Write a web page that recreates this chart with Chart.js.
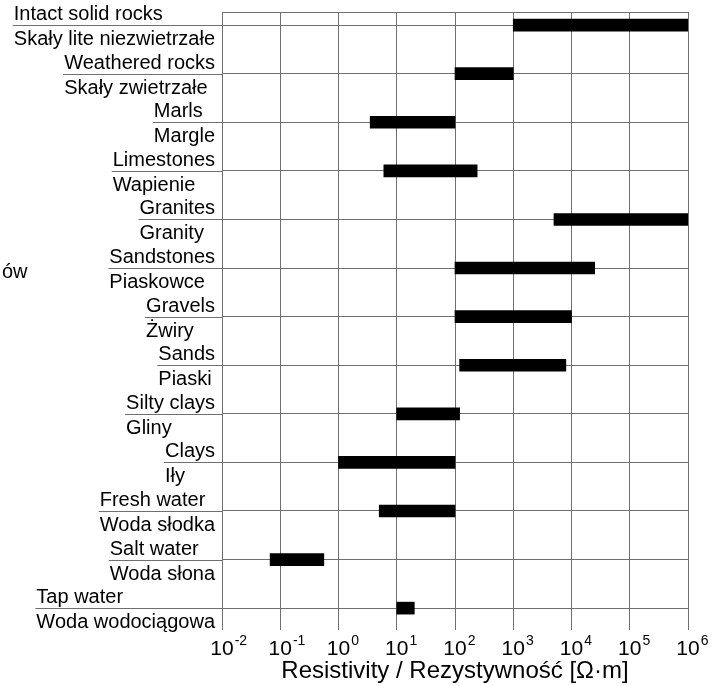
<!DOCTYPE html>
<html>
<head>
<meta charset="utf-8">
<script src="https://cdn.jsdelivr.net/npm/chart.js@4"></script>
<style>
  html, body { margin: 0; padding: 0; background: #fff; }
  #wrap { position: relative; width: 714px; height: 686px; }
</style>
</head>
<body>
<div id="wrap"><canvas id="chart"></canvas></div>
<script>
// Material names, English above each separator, Polish below it
const materialsEn = ['Intact solid rocks', 'Weathered rocks', 'Marls', 'Limestones', 'Granites',
  'Sandstones', 'Gravels', 'Sands', 'Silty clays', 'Clays', 'Fresh water', 'Salt water', 'Tap water'];
const materialsPl = ['Skały lite niezwietrzałe', 'Skały zwietrzałe', 'Margle', 'Wapienie', 'Granity',
  'Piaskowce', 'Żwiry', 'Piaski', 'Gliny', 'Iły', 'Woda słodka', 'Woda słona', 'Woda wodociągowa'];

// Resistivity range of each material, Ω·m
const resistivityLow  = [1000, 100, 3.5, 6, 5000, 100, 100, 120, 10, 1, 5, 0.067, 10];
const resistivityHigh = [1e6, 1000, 100, 240, 1e6, 25000, 10000, 8000, 120, 100, 100, 0.56, 20];

// Decade ticks on the resistivity axis (powers of ten)
const decadeExponents = [-2, -1, 0, 1, 2, 3, 4, 5, 6];

const axisTitle = 'Resistivity / Rezystywność [Ω·m]';
const sideText = 'ów';

const FONT = '"Liberation Sans", Arial, Helvetica, sans-serif';
const LINE = '#6f6f6f';

const bars = materialsEn.map((_, i) => ({ x: [resistivityLow[i], resistivityHigh[i]], y: i }));

// Two-line category labels, their underlines, the top frame and the power-of-ten tick labels
const textPlugin = {
  id: 'textLayer',
  afterDraw(chart) {
    const { ctx, chartArea, scales: { x, y } } = chart;
    ctx.save();
    ctx.strokeStyle = LINE;
    ctx.lineWidth = 1;

    const top = Math.round(chartArea.top) + 0.5;
    ctx.beginPath();
    ctx.moveTo(chartArea.left, top);
    ctx.lineTo(chartArea.right, top);
    ctx.stroke();

    ctx.fillStyle = '#000';
    ctx.textAlign = 'left';
    ctx.textBaseline = 'alphabetic';
    ctx.font = '20px ' + FONT;
    materialsEn.forEach((en, i) => {
      const pl = materialsPl[i];
      const py = y.getPixelForValue(i);
      const w = Math.max(ctx.measureText(en).width, ctx.measureText(pl).width);
      const left = chartArea.left - 7 - w;
      ctx.fillText(en, left, py - 5);
      ctx.fillText(pl, left, py + 20);
      const ly = Math.round(py) + 0.5;
      ctx.beginPath();
      ctx.moveTo(left - 1, ly);
      ctx.lineTo(chartArea.left, ly);
      ctx.stroke();
    });

    ctx.fillText(sideText, 2, chartArea.top + 266);

    const base = chartArea.bottom;
    decadeExponents.forEach(e => {
      const px = x.getPixelForValue(Math.pow(10, e));
      ctx.font = '21px ' + FONT;
      const bw = ctx.measureText('10').width;
      ctx.fillText('10', px - bw / 2, base + 25);
      ctx.font = '14px ' + FONT;
      ctx.fillText(String(e), px + bw / 2 + 1, base + 15);
    });

    ctx.font = '24px ' + FONT;
    ctx.textAlign = 'center';
    ctx.fillText(axisTitle, (chartArea.left + chartArea.right) / 2, base + 48);
    ctx.restore();
  }
};

new Chart(document.getElementById('chart'), {
  type: 'bar',
  data: {
    datasets: [{
      data: bars,
      backgroundColor: '#000',
      borderWidth: 0,
      barThickness: 12
    }]
  },
  options: {
    indexAxis: 'y',
    responsive: true,
    maintainAspectRatio: false,
    animation: false,
    layout: { padding: { top: 12, right: 26, left: 0, bottom: 0 } },
    plugins: { legend: { display: false }, tooltip: { enabled: false } },
    scales: {
      x: {
        type: 'logarithmic',
        position: 'bottom',
        min: 0.01,
        max: 1e6,
        offset: false,
        grid: { color: LINE, lineWidth: 1, drawTicks: false, offset: false },
        border: { display: false },
        ticks: { display: false },
        afterBuildTicks(scale) {
          scale.ticks = decadeExponents.map(e => ({ value: Math.pow(10, e) }));
        },
        afterFit(scale) { scale.height = 56; }
      },
      y: {
        type: 'linear',
        reverse: true,
        min: -0.27,
        max: 12.45,
        offset: false,
        grid: { color: LINE, lineWidth: 1, drawTicks: false, offset: false },
        border: { display: false },
        ticks: { display: false },
        afterBuildTicks(scale) {
          scale.ticks = materialsEn.map((_, i) => ({ value: i }));
        },
        afterFit(scale) { scale.width = 222; }
      }
    }
  },
  plugins: [textPlugin]
});
</script>
</body>
</html>
